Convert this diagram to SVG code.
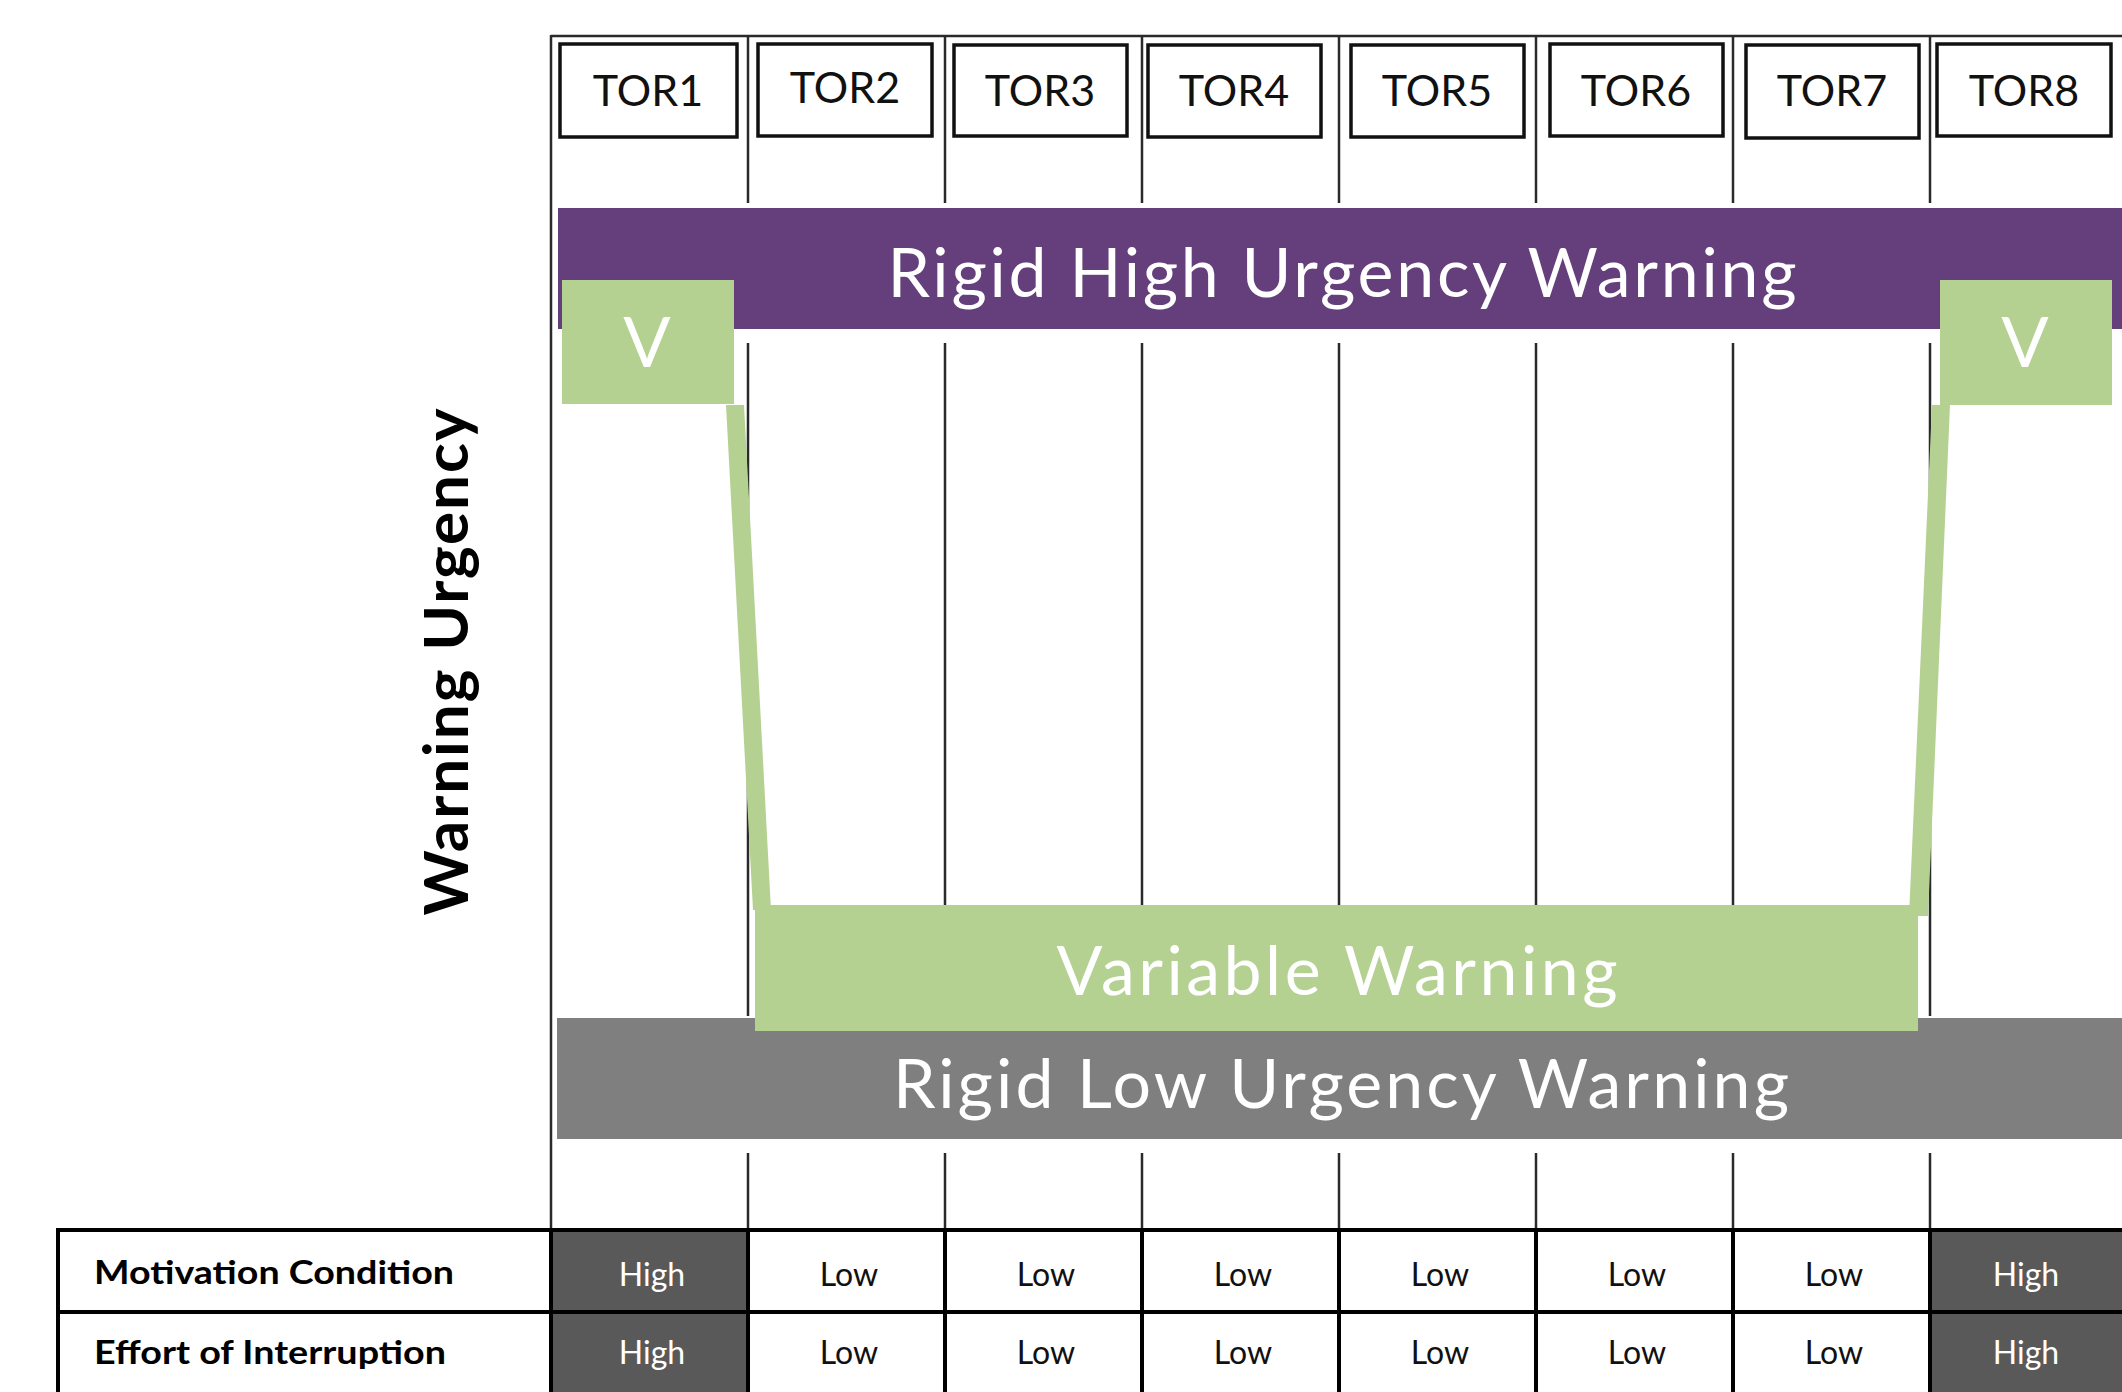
<svg xmlns="http://www.w3.org/2000/svg" width="2122" height="1392" viewBox="0 0 2122 1392">
<style>
.t{font-family:Lato,"Liberation Sans",sans-serif;}
.tor rect{fill:#fff;stroke:#111;stroke-width:3.5;}
.tor text{font-size:43px;fill:#111;text-anchor:middle;}
.grid line{stroke:#2a2a2a;stroke-width:2.5;}
.band{font-size:68px;fill:#fff;text-anchor:middle;}
.vtxt{font-size:70px;fill:#fff;text-anchor:middle;}
.cell rect{stroke:#000;stroke-width:4;}
.hi rect{fill:#595959;}
.lo rect{fill:#fff;}
.hi text{fill:#fff;font-size:32px;text-anchor:middle;}
.lo text{fill:#111;font-size:32px;text-anchor:middle;}
.hdr rect{fill:#fff;}
.hdr text{fill:#000;font-size:33px;font-weight:bold;text-anchor:start;}
</style>
<rect x="0" y="0" width="2122" height="1392" fill="#fff"/>

<g id="grid" class="grid">
<line x1="551" y1="36" x2="2122" y2="36"/>
<line x1="551" y1="35" x2="551" y2="1392"/>
<line x1="748" y1="36" x2="748" y2="203"/>
<line x1="945" y1="36" x2="945" y2="203"/>
<line x1="1142" y1="36" x2="1142" y2="203"/>
<line x1="1339" y1="36" x2="1339" y2="203"/>
<line x1="1536" y1="36" x2="1536" y2="203"/>
<line x1="1733" y1="36" x2="1733" y2="203"/>
<line x1="1930" y1="36" x2="1930" y2="203"/>
<line x1="748" y1="343" x2="748" y2="1016"/>
<line x1="945" y1="343" x2="945" y2="905"/>
<line x1="1142" y1="343" x2="1142" y2="905"/>
<line x1="1339" y1="343" x2="1339" y2="905"/>
<line x1="1536" y1="343" x2="1536" y2="905"/>
<line x1="1733" y1="343" x2="1733" y2="905"/>
<line x1="1930" y1="343" x2="1930" y2="1016"/>
<line x1="748" y1="1153" x2="748" y2="1230"/>
<line x1="945" y1="1153" x2="945" y2="1230"/>
<line x1="1142" y1="1153" x2="1142" y2="1230"/>
<line x1="1339" y1="1153" x2="1339" y2="1230"/>
<line x1="1536" y1="1153" x2="1536" y2="1230"/>
<line x1="1733" y1="1153" x2="1733" y2="1230"/>
<line x1="1930" y1="1153" x2="1930" y2="1230"/>
</g>

<g id="tor1" class="tor t"><rect x="560" y="44" width="177" height="93"/><text x="648" y="106">TOR1</text></g>
<g id="tor2" class="tor t"><rect x="758" y="44" width="174" height="92"/><text x="845" y="103">TOR2</text></g>
<g id="tor3" class="tor t"><rect x="954" y="45" width="173" height="91"/><text x="1040" y="106">TOR3</text></g>
<g id="tor4" class="tor t"><rect x="1148" y="45" width="173" height="92"/><text x="1234" y="106">TOR4</text></g>
<g id="tor5" class="tor t"><rect x="1351" y="45" width="173" height="92"/><text x="1437" y="106">TOR5</text></g>
<g id="tor6" class="tor t"><rect x="1550" y="44" width="173" height="92"/><text x="1636" y="106">TOR6</text></g>
<g id="tor7" class="tor t"><rect x="1746" y="45" width="173" height="93"/><text x="1832" y="106">TOR7</text></g>
<g id="tor8" class="tor t"><rect x="1937" y="44" width="174" height="92"/><text x="2024" y="106">TOR8</text></g>

<g id="rigid-high">
<rect x="558" y="208" width="1564" height="121" fill="#643f7b"/>
<text class="t band" x="1342" y="297" textLength="909" lengthAdjust="spacing">Rigid High Urgency Warning</text>
</g>

<g id="rigid-low">
<rect x="557" y="1018" width="1565" height="121" fill="#7f7f7f"/>
<text class="t band" x="1341" y="1108" textLength="896" lengthAdjust="spacing">Rigid Low Urgency Warning</text>
</g>

<g id="connectors" fill="#b5d192">
<polygon points="726,405 744,405 771,910 753,910"/>
<polygon points="1932,405 1950,405 1928,916 1909,916"/>
</g>

<g id="variable-warning">
<rect x="755" y="905" width="1163" height="126" fill="#b5d192"/>
<text class="t band" x="1337" y="995" font-size="70" textLength="561" lengthAdjust="spacing">Variable Warning</text>
</g>

<g id="v-left">
<rect x="562" y="280" width="172" height="124" fill="#b5d192"/>
<text class="t vtxt" x="647" y="367">V</text>
</g>
<g id="v-right">
<rect x="1940" y="280" width="172" height="125" fill="#b5d192"/>
<text class="t vtxt" x="2025" y="367">V</text>
</g>

<g id="axis-label">
<text class="t" transform="translate(468,662) rotate(-90)" font-size="62" font-weight="bold" fill="#000" text-anchor="middle" textLength="507" lengthAdjust="spacing">Warning Urgency</text>
</g>

<g id="table" class="t">
<g id="row1-head" class="cell hdr"><rect x="58" y="1230" width="493" height="82"/><text x="94" y="1284" textLength="360" lengthAdjust="spacingAndGlyphs">Motivation Condition</text></g>
<g id="row2-head" class="cell hdr"><rect x="58" y="1312" width="493" height="82"/><text x="94" y="1364" textLength="352" lengthAdjust="spacingAndGlyphs">Effort of Interruption</text></g>
<g id="r1c1" class="cell hi"><rect x="551" y="1230" width="197" height="82"/><text x="652" y="1286">High</text></g>
<g id="r1c2" class="cell lo"><rect x="748" y="1230" width="197" height="82"/><text x="849" y="1286">Low</text></g>
<g id="r1c3" class="cell lo"><rect x="945" y="1230" width="197" height="82"/><text x="1046" y="1286">Low</text></g>
<g id="r1c4" class="cell lo"><rect x="1142" y="1230" width="197" height="82"/><text x="1243" y="1286">Low</text></g>
<g id="r1c5" class="cell lo"><rect x="1339" y="1230" width="197" height="82"/><text x="1440" y="1286">Low</text></g>
<g id="r1c6" class="cell lo"><rect x="1536" y="1230" width="197" height="82"/><text x="1637" y="1286">Low</text></g>
<g id="r1c7" class="cell lo"><rect x="1733" y="1230" width="197" height="82"/><text x="1834" y="1286">Low</text></g>
<g id="r1c8" class="cell hi"><rect x="1930" y="1230" width="197" height="82"/><text x="2026" y="1286">High</text></g>
<g id="r2c1" class="cell hi"><rect x="551" y="1312" width="197" height="82"/><text x="652" y="1364">High</text></g>
<g id="r2c2" class="cell lo"><rect x="748" y="1312" width="197" height="82"/><text x="849" y="1364">Low</text></g>
<g id="r2c3" class="cell lo"><rect x="945" y="1312" width="197" height="82"/><text x="1046" y="1364">Low</text></g>
<g id="r2c4" class="cell lo"><rect x="1142" y="1312" width="197" height="82"/><text x="1243" y="1364">Low</text></g>
<g id="r2c5" class="cell lo"><rect x="1339" y="1312" width="197" height="82"/><text x="1440" y="1364">Low</text></g>
<g id="r2c6" class="cell lo"><rect x="1536" y="1312" width="197" height="82"/><text x="1637" y="1364">Low</text></g>
<g id="r2c7" class="cell lo"><rect x="1733" y="1312" width="197" height="82"/><text x="1834" y="1364">Low</text></g>
<g id="r2c8" class="cell hi"><rect x="1930" y="1312" width="197" height="82"/><text x="2026" y="1364">High</text></g>
</g>
</svg>
